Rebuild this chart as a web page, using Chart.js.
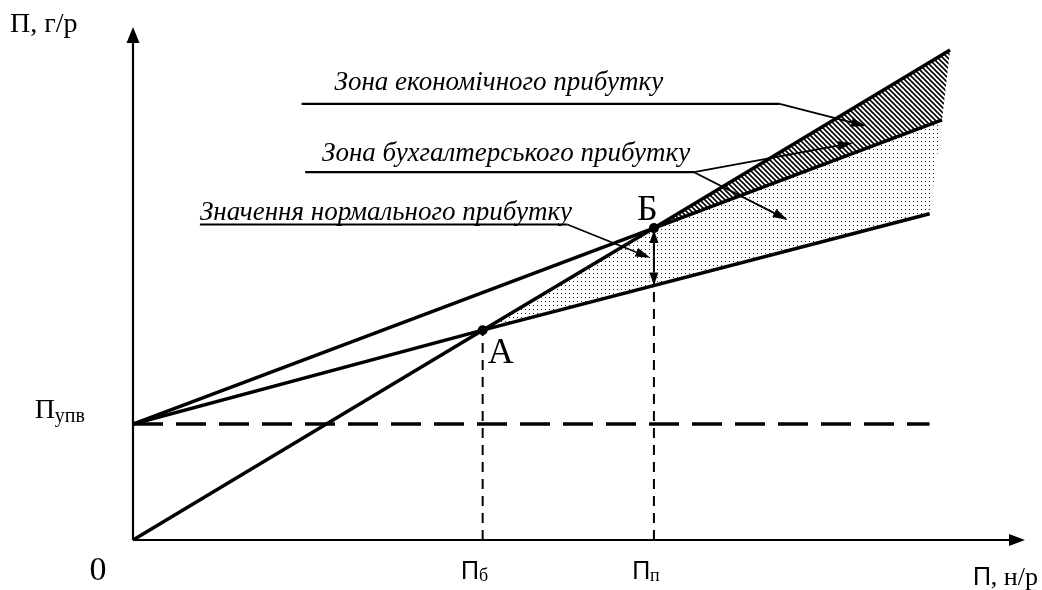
<!DOCTYPE html>
<html>
<head>
<meta charset="utf-8">
<script src="https://cdn.jsdelivr.net/npm/chart.js@4"></script>
<style>
html, body { margin: 0; padding: 0; background: #fff; }
canvas { display: block; }
</style>
</head>
<body>
<canvas id="chart" width="1042" height="590"></canvas>
<script>
// Точки беззбитковості (А) та нормального прибутку (Б)
const pointA = [39.2, 40.9];
const pointB = [58.4, 60.8];

// Виручка
const revenueX = [0, 39.2, 58.4, 91.6];
const revenueY = [0, 40.9, 60.8, 95.5];
// Бухгалтерські витрати
const costX = [0, 39.2, 89.3];
const costY = [22.6, 40.9, 63.6];
// Економічні витрати (з нормальним прибутком)
const econX = [0, 58.4, 90.7];
const econY = [22.6, 60.8, 81.9];
// Умовно-постійні витрати
const fixedX = [0, 89.3];
const fixedY = [22.6, 22.6];

// Підписи осей
const xTickValues = [39.2, 58.4];
const xTickLabels = [['П', 'б'], ['П', 'п']];
const yTickValues = [22.6];
const yTickLabels = [['П', 'упв']];
const originLabel = '0';
const xTitle = ['П', ', н/р'];
const yTitle = 'П, г/р';
const pointLabels = ['А', 'Б'];
const zoneLabels = ['Зона економічного прибутку', 'Зона бухгалтерського прибутку', 'Значення нормального прибутку'];

const toPts = (xs, ys) => xs.map((x, i) => ({ x: x, y: ys[i] }));
const last = arr => arr[arr.length - 1];

const ctx = document.getElementById('chart').getContext('2d');

function makeDots() {
    const c = document.createElement('canvas');
    c.width = 4; c.height = 4;
    const g = c.getContext('2d');
    g.fillStyle = '#222';
    g.fillRect(1, 1, 1, 1);
    return ctx.createPattern(c, 'repeat');
}

function makeHatch() {
    const c = document.createElement('canvas');
    c.width = 5; c.height = 5;
    const g = c.getContext('2d');
    g.strokeStyle = '#000';
    g.lineWidth = 1.6;
    g.beginPath();
    g.moveTo(-1, -1); g.lineTo(6, 6);
    g.moveTo(-1, 4); g.lineTo(1, 6);
    g.moveTo(4, -1); g.lineTo(6, 1);
    g.stroke();
    return ctx.createPattern(c, 'repeat');
}

const A = { x: pointA[0], y: pointA[1] };
const B = { x: pointB[0], y: pointB[1] };
const dotZone = [A, B, { x: last(econX), y: last(econY) }, { x: last(costX), y: last(costY) }, A];
const hatchZone = [B, { x: last(revenueX), y: last(revenueY) }, { x: last(econX), y: last(econY) }, B];

// бухгалтерські витрати в точці Б
const costAtB = costY[1] + (costY[2] - costY[1]) * (B.x - costX[1]) / (costX[2] - costX[1]);

function line(data, extra) {
    return Object.assign({
        data: data, showLine: true, borderColor: '#000', borderWidth: 3.5,
        pointRadius: 0, fill: false, tension: 0
    }, extra || {});
}

function arrow(c, x1, y1, x2, y2, len, wid) {
    const a = Math.atan2(y2 - y1, x2 - x1);
    const bx = x2 - len * Math.cos(a), by = y2 - len * Math.sin(a);
    c.beginPath();
    c.moveTo(x1, y1);
    c.lineTo(bx, by);
    c.stroke();
    c.beginPath();
    c.moveTo(x2, y2);
    c.lineTo(bx + wid / 2 * Math.sin(a), by - wid / 2 * Math.cos(a));
    c.lineTo(bx - wid / 2 * Math.sin(a), by + wid / 2 * Math.cos(a));
    c.closePath();
    c.fill();
}

function subText(c, main, sub, x, y, mainFont, subFont, drop, align) {
    c.font = mainFont;
    const w1 = c.measureText(main).width;
    c.font = subFont;
    const w2 = c.measureText(sub).width;
    let left = x;
    if (align === 'right') left = x - w1 - w2;
    if (align === 'center') left = x - (w1 + w2) / 2;
    c.textAlign = 'left';
    c.font = mainFont;
    c.fillText(main, left, y);
    c.font = subFont;
    c.fillText(sub, left + w1, y + drop);
}

const overlay = {
    id: 'overlay',
    afterDatasetsDraw(chart) {
        const c = chart.ctx;
        const xs = chart.scales.x, ys = chart.scales.y;
        const P = (vx, vy) => [xs.getPixelForValue(vx), ys.getPixelForValue(vy)];
        const area = chart.chartArea;
        c.save();
        c.fillStyle = '#000';
        c.strokeStyle = '#000';

        // осі
        c.lineWidth = 2.2;
        arrow(c, area.left, area.bottom, area.left, area.top, 16, 13);
        arrow(c, area.left, area.bottom, area.right, area.bottom, 16, 12);

        // подвійна стрілка між Б та лінією витрат
        const bTop = P(B.x, B.y), bBot = P(B.x, costAtB);
        c.lineWidth = 2;
        arrow(c, bTop[0], (bTop[1] + bBot[1]) / 2, bTop[0], bTop[1] + 2, 13, 9);
        arrow(c, bTop[0], (bTop[1] + bBot[1]) / 2, bBot[0], bBot[1], 13, 9);

        // виноски
        c.lineWidth = 2.2;
        const u1a = P(18.9, 85.0), u1b = P(72.5, 85.0), t1 = P(82.2, 80.7);
        c.beginPath(); c.moveTo(u1a[0], u1a[1]); c.lineTo(u1b[0], u1b[1]); c.stroke();
        c.lineWidth = 1.8;
        arrow(c, u1b[0], u1b[1], t1[0], t1[1], 15, 9);

        c.lineWidth = 2.2;
        const u2a = P(19.3, 71.7), u2b = P(62.9, 71.7), t2a = P(80.7, 77.4), t2b = P(73.4, 62.4);
        c.beginPath(); c.moveTo(u2a[0], u2a[1]); c.lineTo(u2b[0], u2b[1]); c.stroke();
        c.lineWidth = 1.8;
        arrow(c, u2b[0], u2b[1], t2a[0], t2a[1], 15, 9);
        arrow(c, u2b[0], u2b[1], t2b[0], t2b[1], 15, 9);

        c.lineWidth = 2.2;
        const u3a = P(7.5, 61.5), u3b = P(48.7, 61.5), t3 = P(58.0, 55.0);
        c.beginPath(); c.moveTo(u3a[0], u3a[1]); c.lineTo(u3b[0], u3b[1]); c.stroke();
        c.lineWidth = 1.8;
        arrow(c, u3b[0], u3b[1], t3[0], t3[1], 15, 9);

        // тексти виносок
        c.textAlign = 'left';
        c.textBaseline = 'alphabetic';
        c.font = 'italic 27px "Liberation Serif"';
        const z1 = P(22.6, 87.7), z2 = P(21.2, 73.9), z3 = P(7.5, 62.4);
        c.fillText(zoneLabels[0], z1[0], z1[1]);
        c.fillText(zoneLabels[1], z2[0], z2[1]);
        c.fillText(zoneLabels[2], z3[0], z3[1]);

        // підписи точок
        c.font = '36px "Liberation Serif"';
        const pa = P(A.x, A.y), pb = P(B.x, B.y);
        c.fillText(pointLabels[0], pa[0] + 5, pa[1] + 33);
        c.fillText(pointLabels[1], pb[0] - 17, pb[1] - 8);

        // підписи по осі X
        xTickValues.forEach((v, i) => {
            const px = xs.getPixelForValue(v);
            subText(c, xTickLabels[i][0], xTickLabels[i][1], px - 8, area.bottom + 39,
                '25px "Liberation Sans"', '18px "Liberation Serif"', 2, 'center');
        });
        // підписи по осі Y
        yTickValues.forEach((v, i) => {
            const py = ys.getPixelForValue(v);
            subText(c, yTickLabels[i][0], yTickLabels[i][1], area.left - 48, py - 6,
                '28px "Liberation Serif"', '20px "Liberation Serif"', 4, 'right');
        });

        c.textAlign = 'center';
        c.font = '34px "Liberation Serif"';
        c.fillText(originLabel, area.left - 35, area.bottom + 40);

        c.textAlign = 'left';
        c.font = '28px "Liberation Serif"';
        c.fillText(yTitle, 10, 32);

        subText(c, xTitle[0], xTitle[1], 1038, area.bottom + 45,
            '25px "Liberation Sans"', '26px "Liberation Serif"', 0, 'right');

        c.restore();
    }
};

new Chart(ctx, {
    type: 'scatter',
    data: {
        datasets: [
            { data: [A, B], pointRadius: 5, pointBackgroundColor: '#000', pointBorderColor: '#000', pointBorderWidth: 0, showLine: false },
            line(toPts(revenueX, revenueY)),
            line(toPts(costX, costY)),
            line(toPts(econX, econY)),
            line(toPts(fixedX, fixedY), { borderDash: [30, 13] }),
            line([{ x: A.x, y: 0 }, A], { borderWidth: 2, borderDash: [10, 7] }),
            line([{ x: B.x, y: 0 }, B], { borderWidth: 2, borderDash: [10, 7] }),
            line(hatchZone, { borderColor: 'rgba(0,0,0,0)', borderWidth: 1, fill: 'shape', backgroundColor: makeHatch() }),
            line(dotZone, { borderColor: 'rgba(0,0,0,0)', borderWidth: 1, fill: 'shape', backgroundColor: makeDots() })
        ]
    },
    options: {
        responsive: false,
        animation: false,
        devicePixelRatio: 1,
        layout: { padding: { left: 133, right: 17, top: 27, bottom: 50 } },
        scales: {
            x: { type: 'linear', min: 0, max: 100, display: false },
            y: { type: 'linear', min: 0, max: 100, display: false }
        },
        plugins: {
            legend: { display: false },
            tooltip: { enabled: false }
        }
    },
    plugins: [overlay]
});
</script>
</body>
</html>
